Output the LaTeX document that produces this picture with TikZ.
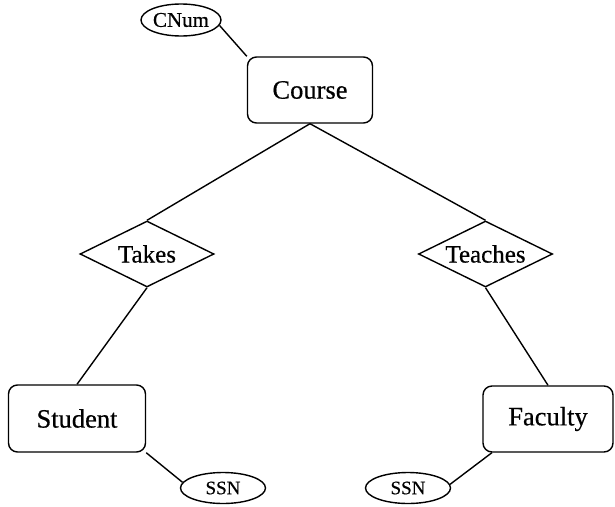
\documentclass[tikz,border=0pt]{standalone}
\usepackage{fontspec}
\setmainfont{Liberation Serif}[FakeBold=0.5]
\usetikzlibrary{shapes.geometric}
\begin{document}
\begin{tikzpicture}[x=1pt,y=-1pt,line width=1.4pt,
  entity/.style={draw,rectangle,rounded corners=9pt,inner sep=0pt,
    font=\fontsize{26.5}{30}\selectfont},
  relation/.style={draw,diamond,aspect=2,inner sep=0pt,
    minimum width=134pt,minimum height=66pt,
    font=\fontsize{25}{28}\selectfont},
  attribute/.style={draw,ellipse,inner sep=0pt,
    font=\fontsize{19}{22}\selectfont}]
  \useasboundingbox (0,0) rectangle (615,506);

  % entities
  \node[entity,minimum width=125pt,minimum height=66pt] (course) at (310,90) {Course};
  \node[entity,minimum width=137pt,minimum height=67pt] (student) at (77,418.5) {Student};
  \node[entity,minimum width=130pt,minimum height=66pt] (faculty) at (548,419) {Faculty};

  % relationships
  \node[relation] (takes) at (147,254) {Takes};
  \node[relation] (teaches) at (485.5,254) {Teaches};

  % attributes
  \node[attribute,minimum width=80pt,minimum height=32pt,
        font=\fontsize{21}{24}\selectfont] (cnum) at (181,20) {CNum};
  \node[attribute,minimum width=85pt,minimum height=31pt] (ssnS) at (223,488) {SSN};
  \node[attribute,minimum width=85pt,minimum height=31pt] (ssnF) at (408,488) {SSN};

  % connectors
  \draw (cnum.-8) -- (course.north west);
  \draw (course.south) -- (takes.north);
  \draw (course.south) -- (teaches.north);
  \draw (takes.south) -- (student.north);
  \draw (teaches.south) -- (faculty.north);
  \draw (student.south east) -- (ssnS.172);
  \draw (faculty.211) -- (ssnF.5);
\end{tikzpicture}
\end{document}
